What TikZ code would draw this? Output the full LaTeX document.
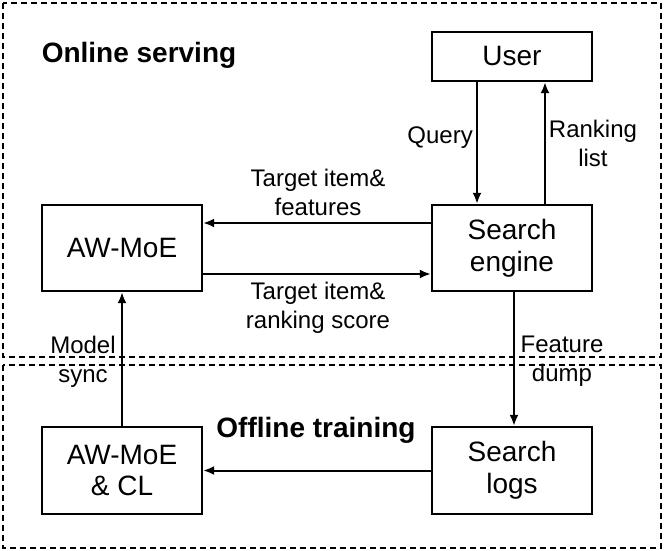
\documentclass[tikz,border=0pt]{standalone}
\usepackage{fontspec}
\setmainfont{Liberation Sans}
\usetikzlibrary{arrows.meta}
\begin{document}
\begin{tikzpicture}[x=1pt,y=-1pt,
  box/.style={draw,line width=2.4pt,minimum width=160pt,align=center,font=\fontsize{28}{32}\selectfont,inner sep=0pt},
  lbl/.style={align=center,font=\fontsize{24}{29}\selectfont,inner sep=0pt},
  ttl/.style={font=\fontsize{28}{32}\selectfont\bfseries,inner sep=0pt},
  arr/.style={line width=2pt,-{Latex[length=11pt,width=9pt]}},
  region/.style={draw,line width=1.4pt,dash pattern=on 6pt off 4pt}]
\useasboundingbox (0,0) rectangle (664,551);
\draw[region] (3,3) rectangle (661,357);
\draw[region] (3,365) rectangle (661,548);
\node[box,minimum height=49pt] (user) at (512,56.5) {User};
\node[box,minimum height=86pt] (aw) at (122,248) {AW-MoE};
\node[box,minimum height=86pt] (se) at (512,248) {Search\\engine};
\node[box,minimum height=87pt] (awcl) at (122,470.5) {AW-MoE\\\& CL};
\node[box,minimum height=87pt] (logs) at (512,470.5) {Search\\logs};
\node[ttl] (online) at (139,55) {Online serving};
\node[ttl] (offline) at (316,430) {Offline training};
\draw[arr] ([xshift=-35pt]user.south) -- ([xshift=-35pt]se.north);
\draw[arr] ([xshift=33pt]se.north) -- ([xshift=33pt]user.south);
\draw[arr] ([yshift=25pt]se.west) -- ([yshift=25pt]aw.east);
\draw[arr] ([yshift=-26pt]aw.east) -- ([yshift=-26pt]se.west);
\draw[arr] ([xshift=2pt]se.south) -- ([xshift=2pt]logs.north);
\draw[arr] (logs.west) -- (awcl.east);
\draw[arr] (awcl.north) -- (aw.south);
\node[lbl,anchor=east] (lq) at (473,138) {Query};
\node[lbl] (lr) at (593,143) {Ranking\\list};
\node[lbl] (lf) at (318,192) {Target item\&\\features};
\node[lbl] (ls) at (318,308) {Target item\&\\ranking score};
\node[lbl] (lm) at (83,362) {Model\\sync};
\node[lbl] (ld) at (562,361) {Feature\\dump};
\end{tikzpicture}
\end{document}
